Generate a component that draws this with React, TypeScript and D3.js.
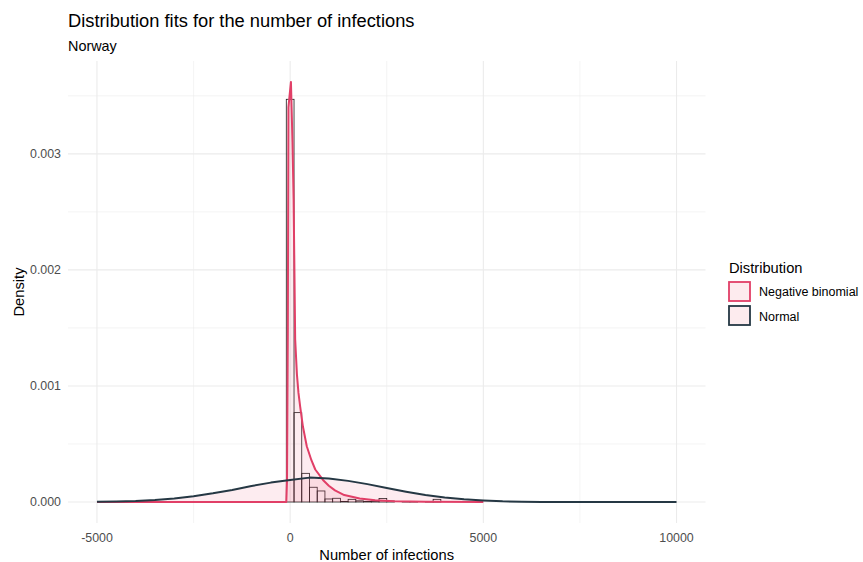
import * as d3 from "d3";
import React, { useRef, useEffect } from "react";

// histogram of observed daily infections (binwidth 200)
const binWidth = 200;
const binStarts = [
  -100, 100, 300, 500, 700, 900, 1100, 1300, 1500, 1700, 1900, 2100, 2300,
  2500, 2700, 2900, 3100, 3300, 3500, 3700,
];
const binDensity = [
  0.00347, 0.00077, 0.000247, 0.000127, 0.000095, 0.000026, 0.000032,
  0.000004, 0.000023, 0.00001, 0.000005, 0.000008, 0.00003, 0.000008, 0,
  0.000005, 0.000003, 0, 0.000003, 0.000023,
];

// fitted negative binomial density
const nbX = [
  -5000, -100, -80, -60, -45, 20, 60, 90, 130, 175, 215, 260, 330, 430, 550,
  650, 850, 1000, 1160, 1400, 1800, 2200, 2700, 3500, 5000,
];
const nbDensity = [
  0, 0, 0.0002, 0.0015, 0.0034, 0.00362, 0.0031, 0.0026, 0.0014, 0.0011,
  0.00094, 0.00082, 0.00065, 0.00048, 0.00036, 0.00028, 0.00019, 0.00014,
  0.0001, 0.00006, 0.00003, 0.000015, 0.000006, 0.000002, 0,
];

// fitted normal density
const normalX = [
  -5000, -4500, -4000, -3500, -3000, -2500, -2000, -1500, -1000, -500, 0, 500,
  1000, 1500, 2000, 2500, 3000, 3500, 4000, 4500, 5000, 5500, 6000, 6500, 7000,
  7500, 8000, 8500, 9000, 9500, 10000,
];
const normalDensity = [
  0.000003, 0.000005, 0.000009, 0.000017, 0.00003, 0.00005, 0.000075,
  0.000104, 0.000138, 0.000167, 0.00019, 0.00021, 0.000203, 0.000182,
  0.000154, 0.000121, 0.000089, 0.00006, 0.000038, 0.000023, 0.000013,
  0.000006, 0.000003, 0.000001, 0, 0, 0, 0, 0, 0, 0,
];

const xTicks = [-5000, 0, 5000, 10000];
const xMinor = [-2500, 2500, 7500];
const yTicks = [0, 0.001, 0.002, 0.003];
const yMinor = [0.0005, 0.0015, 0.0025, 0.0035];
const seriesNames = ["Negative binomial", "Normal"];

const W = 863;
const H = 562;
const font = "'Liberation Sans', Arial, sans-serif";
const pink = "#E13F67";
const dark = "#253844";

function App() {
  const gref = useRef(null);

  useEffect(() => {
    const svg = d3.select(gref.current);
    svg.selectAll("*").remove();

    const x = d3.scaleLinear().domain([-5750, 10750]).range([68, 705.5]);
    const y = d3.scaleLinear().domain([-0.000181, 0.0038]).range([523, 61]);

    // grid
    const grid = svg.append("g");
    grid
      .selectAll("line.xm")
      .data(xMinor)
      .enter()
      .append("line")
      .attr("x1", (d) => x(d))
      .attr("x2", (d) => x(d))
      .attr("y1", 61)
      .attr("y2", 523)
      .attr("stroke", "#EDEDED")
      .attr("stroke-width", 0.6);
    grid
      .selectAll("line.ym")
      .data(yMinor)
      .enter()
      .append("line")
      .attr("x1", 68)
      .attr("x2", 705.5)
      .attr("y1", (d) => y(d))
      .attr("y2", (d) => y(d))
      .attr("stroke", "#EDEDED")
      .attr("stroke-width", 0.6);
    grid
      .selectAll("line.x")
      .data(xTicks)
      .enter()
      .append("line")
      .attr("x1", (d) => x(d))
      .attr("x2", (d) => x(d))
      .attr("y1", 61)
      .attr("y2", 523)
      .attr("stroke", "#EBEBEB")
      .attr("stroke-width", 1.1);
    grid
      .selectAll("line.y")
      .data(yTicks)
      .enter()
      .append("line")
      .attr("x1", 68)
      .attr("x2", 705.5)
      .attr("y1", (d) => y(d))
      .attr("y2", (d) => y(d))
      .attr("stroke", "#EBEBEB")
      .attr("stroke-width", 1.1);

    // histogram
    svg
      .append("g")
      .selectAll("rect")
      .data(binStarts)
      .enter()
      .append("rect")
      .attr("x", (d) => x(d))
      .attr("width", (d) => x(d + binWidth) - x(d))
      .attr("y", (d, i) => y(binDensity[i]))
      .attr("height", (d, i) => y(0) - y(binDensity[i]))
      .attr("fill", "none")
      .attr("stroke", "#1b1b1b")
      .attr("stroke-width", 0.8);

    const curves = [
      { xs: nbX, ds: nbDensity, color: pink },
      { xs: normalX, ds: normalDensity, color: dark },
    ];

    curves.forEach((c) => {
      const pts = c.xs.map((v, i) => [v, c.ds[i]]);
      const area = d3
        .area()
        .x((d) => x(d[0]))
        .y0(y(0))
        .y1((d) => y(d[1]));
      svg
        .append("path")
        .datum(pts)
        .attr("d", area)
        .attr("fill", "#E8436B")
        .attr("fill-opacity", 0.1);
    });

    curves.forEach((c) => {
      const pts = c.xs.map((v, i) => [v, c.ds[i]]);
      const line = d3
        .line()
        .x((d) => x(d[0]))
        .y((d) => y(d[1]));
      svg
        .append("path")
        .datum(pts)
        .attr("d", line)
        .attr("fill", "none")
        .attr("stroke", c.color)
        .attr("stroke-width", 2)
        .attr("stroke-linejoin", "round");
    });

    // tick labels
    svg
      .append("g")
      .selectAll("text")
      .data(xTicks)
      .enter()
      .append("text")
      .attr("x", (d) => x(d))
      .attr("y", 542)
      .attr("text-anchor", "middle")
      .attr("font-size", 12.4)
      .attr("fill", "#4D4D4D")
      .attr("font-family", font)
      .text((d) => d);
    svg
      .append("g")
      .selectAll("text")
      .data(yTicks)
      .enter()
      .append("text")
      .attr("x", 61)
      .attr("y", (d) => y(d) + 4.4)
      .attr("text-anchor", "end")
      .attr("font-size", 12.4)
      .attr("fill", "#4D4D4D")
      .attr("font-family", font)
      .text((d) => d3.format(".3f")(d));

    // legend
    const legend = svg.append("g").attr("font-family", font);
    legend
      .append("text")
      .attr("x", 729)
      .attr("y", 272.5)
      .attr("font-size", 14.7)
      .text("Distribution");
    seriesNames.forEach((name, i) => {
      legend
        .append("rect")
        .attr("x", 729)
        .attr("y", 282 + i * 24)
        .attr("width", 21)
        .attr("height", 19)
        .attr("fill", "#FDEBEE")
        .attr("stroke", i === 0 ? pink : dark)
        .attr("stroke-width", 1.8);
      legend
        .append("text")
        .attr("x", 759)
        .attr("y", 296 + i * 24.5)
        .attr("font-size", 12.5)
        .text(name);
    });
  }, []);

  return (
    <svg
      width={W}
      height={H}
      style={{ position: "absolute", left: 0, top: 0, background: "#fff" }}
    >
      <g ref={gref}></g>
      <text x={68} y={26.5} fontSize={18.3} fontFamily={font} fill="#000">
        Distribution fits for the number of infections
      </text>
      <text x={68} y={50.5} fontSize={14.4} fontFamily={font} fill="#000">
        Norway
      </text>
      <text
        x={386.7}
        y={560}
        textAnchor="middle"
        fontSize={14.7}
        fontFamily={font}
      >
        Number of infections
      </text>
      <text
        transform="translate(24,292) rotate(-90)"
        textAnchor="middle"
        fontSize={14.7}
        fontFamily={font}
      >
        Density
      </text>
    </svg>
  );
}

export default App;
